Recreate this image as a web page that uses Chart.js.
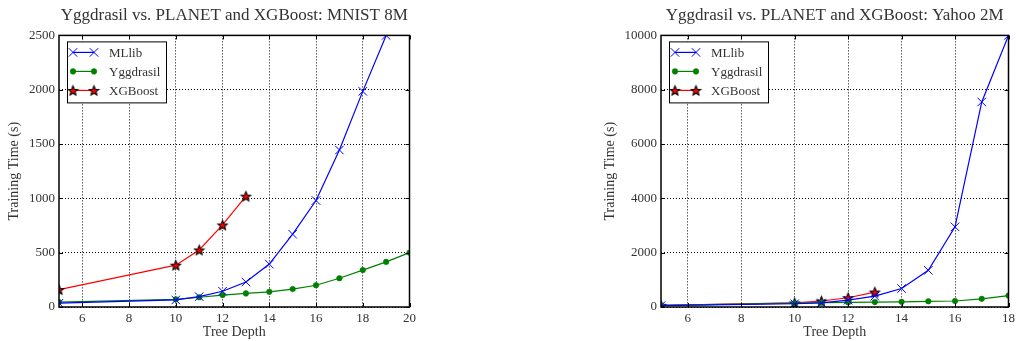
<!DOCTYPE html>
<html>
<head>
<meta charset="utf-8">
<script src="https://cdn.jsdelivr.net/npm/chart.js@4.4.0/dist/chart.umd.min.js"></script>
<style>
  html, body { margin: 0; padding: 0; background: #fff; }
  body { width: 1019px; height: 341px; position: relative; overflow: hidden; }
  .box { position: absolute; top: 0; height: 341px; }
  #boxA { left: 0; width: 420px; }
  #boxB { left: 590px; width: 429px; }
</style>
</head>
<body>
<div class="box" id="boxA"><canvas id="chartA"></canvas></div>
<div class="box" id="boxB"><canvas id="chartB"></canvas></div>
<script>
// ---- data: MNIST 8M ----
const mnistMllibX = [5, 10, 11, 12, 13, 14, 15, 16, 17, 18, 19];
const mnistMllib = [35, 65, 95, 145, 230, 395, 670, 980, 1445, 1985, 2500];
const mnistYggX = [5, 10, 11, 12, 13, 14, 15, 16, 17, 18, 19, 20];
const mnistYgg = [45, 70, 90, 110, 125, 140, 165, 200, 265, 340, 415, 500];
const mnistXgbX = [5, 10, 11, 12, 13];
const mnistXgb = [160, 385, 525, 755, 1020];
const mnistXTicks = [6, 8, 10, 12, 14, 16, 18, 20];
const mnistYTicks = [0, 500, 1000, 1500, 2000, 2500];

// ---- data: Yahoo 2M ----
const yahooMllibX = [5, 10, 11, 12, 13, 14, 15, 16, 17, 18];
const yahooMllib = [50, 120, 150, 250, 400, 680, 1350, 2950, 7550, 10000];
const yahooYggX = [5, 10, 11, 12, 13, 14, 15, 16, 17, 18];
const yahooYgg = [60, 140, 160, 170, 180, 190, 210, 220, 300, 420];
const yahooXgbX = [5, 10, 11, 12, 13];
const yahooXgb = [60, 150, 220, 340, 550];
const yahooXTicks = [6, 8, 10, 12, 14, 16, 18];
const yahooYTicks = [0, 2000, 4000, 6000, 8000, 10000];

const SERIF = "'Liberation Serif', 'DejaVu Serif', serif";
const TXT = '#333';

// red star with black outline, used as a point style
function makeStar(r) {
  const c = document.createElement('canvas');
  const s = Math.ceil(r * 2 + 3);
  c.width = s; c.height = s;
  const g = c.getContext('2d');
  g.beginPath();
  for (let i = 0; i < 10; i++) {
    const rad = i % 2 === 0 ? r : r * 0.45;
    const a = -Math.PI / 2 + i * Math.PI / 5;
    const px = s / 2 + rad * Math.cos(a), py = s / 2 + 0.5 + rad * Math.sin(a);
    if (i === 0) g.moveTo(px, py); else g.lineTo(px, py);
  }
  g.closePath();
  g.fillStyle = '#ff0000';
  g.fill();
  g.lineWidth = 1.1;
  g.strokeStyle = '#000';
  g.stroke();
  return c;
}
const star = makeStar(5);

function pts(xs, ys) { return xs.map((x, i) => ({ x: x, y: ys[i] })); }

// frame, inward ticks and the boxed legend
const framePlugin = {
  id: 'frame',
  afterDraw(chart) {
    const ctx = chart.ctx, a = chart.chartArea;
    const xs = chart.scales.x, ys = chart.scales.y;
    ctx.save();
    ctx.strokeStyle = '#000';
    ctx.lineWidth = 1;
    ctx.beginPath();
    xs.ticks.forEach(t => {
      const px = Math.round(xs.getPixelForValue(t.value)) + 0.5;
      ctx.moveTo(px, a.bottom); ctx.lineTo(px, a.bottom - 4);
      ctx.moveTo(px, a.top); ctx.lineTo(px, a.top + 4);
    });
    ys.ticks.forEach(t => {
      const py = Math.round(ys.getPixelForValue(t.value)) + 0.5;
      ctx.moveTo(a.left, py); ctx.lineTo(a.left + 4, py);
      ctx.moveTo(a.right, py); ctx.lineTo(a.right - 4, py);
    });
    ctx.stroke();
    ctx.lineWidth = 1.5;
    ctx.strokeRect(a.left, a.top, a.right - a.left, a.bottom - a.top);

    // legend
    const lx = a.left + 8, ly = a.top + 6, lw = 99, lh = 61;
    ctx.fillStyle = '#fff';
    ctx.fillRect(lx, ly, lw, lh);
    ctx.lineWidth = 1;
    ctx.strokeStyle = '#000';
    ctx.strokeRect(lx + 0.5, ly + 0.5, lw, lh);
    ctx.font = '13px ' + SERIF;
    ctx.textBaseline = 'middle';
    chart.data.datasets.forEach((ds, i) => {
      const y = ly + 11 + i * 19;
      const x0 = lx + 6, x1 = lx + 27;
      ctx.strokeStyle = ds.borderColor;
      ctx.lineWidth = ds.borderWidth;
      ctx.beginPath(); ctx.moveTo(x0, y); ctx.lineTo(x1, y); ctx.stroke();
      [x0, x1].forEach(px => {
        ctx.fillStyle = ds.pointBackgroundColor;
        ctx.strokeStyle = ds.pointBorderColor;
        ctx.lineWidth = ds.pointBorderWidth;
        Chart.helpers.drawPoint(ctx, {
          pointStyle: ds.pointStyle, radius: ds.pointRadius, rotation: 0,
          borderWidth: ds.pointBorderWidth
        }, px, y);
      });
      ctx.fillStyle = TXT;
      ctx.fillText(ds.label, lx + 42, y + 1);
    });
    ctx.restore();
  }
};

function makeChart(id, title, data, xMin, xMax, xTicks, yMax, yTicks, yWidth, yTitlePad, rightPad) {
  const [mllibX, mllib, yggX, ygg, xgbX, xgb] = data;
  return new Chart(document.getElementById(id), {
    type: 'line',
    data: {
      datasets: [
        {
          label: 'MLlib', data: pts(mllibX, mllib),
          borderColor: '#0000ff', borderWidth: 1.2,
          pointStyle: 'crossRot', pointRadius: 6, pointBorderWidth: 1,
          pointBorderColor: '#0000ff', pointBackgroundColor: '#0000ff'
        },
        {
          label: 'Yggdrasil', data: pts(yggX, ygg),
          borderColor: '#008000', borderWidth: 1.2,
          pointStyle: 'circle', pointRadius: 2.8, pointBorderWidth: 0.5,
          pointBorderColor: '#008000', pointBackgroundColor: '#008000'
        },
        {
          label: 'XGBoost', data: pts(xgbX, xgb),
          borderColor: '#ff0000', borderWidth: 1.2,
          pointStyle: star, pointRadius: 5, pointBorderWidth: 1,
          pointBorderColor: '#000', pointBackgroundColor: '#ff0000'
        }
      ]
    },
    options: {
      responsive: true,
      maintainAspectRatio: false,
      animation: false,
      layout: { padding: { left: 0, right: rightPad, top: 0, bottom: 0 } },
      plugins: {
        legend: { display: false },
        tooltip: { enabled: false },
        title: {
          display: true, text: title, fullSize: false, color: TXT,
          font: { family: SERIF, size: 17, weight: 'normal' },
          padding: { top: 5, bottom: 10 }
        }
      },
      scales: {
        x: {
          type: 'linear', min: xMin, max: xMax,
          afterBuildTicks: s => { s.ticks = xTicks.map(v => ({ value: v })); },
          afterFit: s => { s.height = 34; },
          grid: { color: '#000', lineWidth: 1, drawTicks: false },
          border: { display: false, dash: [1, 2] },
          ticks: { color: TXT, padding: 4, maxRotation: 0, font: { family: SERIF, size: 13 } },
          title: { display: true, text: 'Tree Depth', color: TXT, padding: { top: 0, bottom: 0 },
                   font: { family: SERIF, size: 14 } }
        },
        y: {
          type: 'linear', min: 0, max: yMax,
          afterBuildTicks: s => { s.ticks = yTicks.map(v => ({ value: v })); },
          afterFit: s => { s.width = yWidth; },
          grid: { color: '#000', lineWidth: 1, drawTicks: false },
          border: { display: false, dash: [1, 2] },
          ticks: { color: TXT, padding: 4, callback: v => String(v), font: { family: SERIF, size: 13 } },
          title: { display: true, text: 'Training Time (s)', color: TXT, padding: { top: yTitlePad, bottom: 0 },
                   font: { family: SERIF, size: 14 } }
        }
      }
    },
    plugins: [framePlugin]
  });
}

makeChart('chartA', 'Yggdrasil vs. PLANET and XGBoost: MNIST 8M',
  [mnistMllibX, mnistMllib, mnistYggX, mnistYgg, mnistXgbX, mnistXgb],
  5, 20, mnistXTicks, 2500, mnistYTicks, 59, 6, 8);
makeChart('chartB', 'Yggdrasil vs. PLANET and XGBoost: Yahoo 2M',
  [yahooMllibX, yahooMllib, yahooYggX, yahooYgg, yahooXgbX, yahooXgb],
  5, 18, yahooXTicks, 10000, yahooYTicks, 71, 12, 6);
</script>
</body>
</html>
